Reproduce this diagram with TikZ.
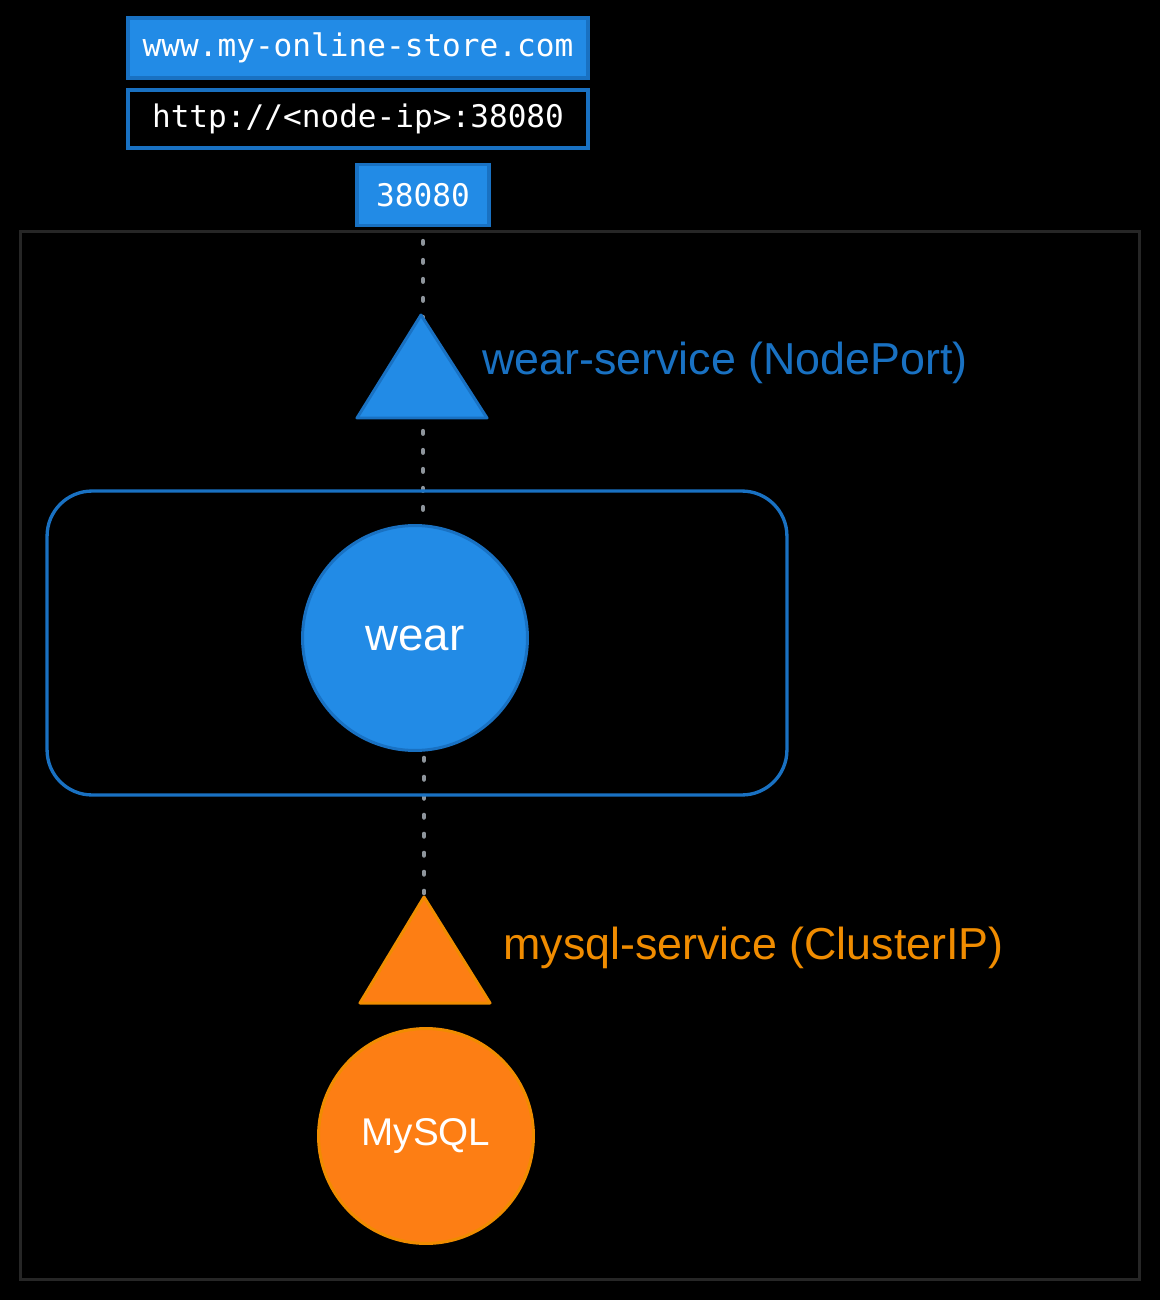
\documentclass[tikz,border=0pt]{standalone}
\usepackage{fontspec}
\setmainfont{Liberation Sans}
\setmonofont{DejaVu Sans Mono}
\usepackage{tikz}
\pgfdeclarelayer{bg}
\pgfsetlayers{bg,main}
\definecolor{svcblue}{HTML}{228BE6}
\definecolor{edgeblue}{HTML}{1971C2}
\definecolor{svcorange}{HTML}{FD7E14}
\definecolor{edgeorange}{HTML}{F08C00}
\definecolor{dotgray}{HTML}{8E959C}
\definecolor{clustergray}{HTML}{262626}

\begin{document}
\begin{tikzpicture}[x=0.02cm, y=-0.02cm,
    urlbox/.style={draw=edgeblue, line width=1.9pt, inner sep=0pt, align=center,
        text=white, font=\fontsize{17.7}{21}\selectfont\ttfamily},
    podball/.style={circle, line width=1.7pt, inner sep=0pt, text=white},
    svclabel/.style={anchor=west, inner sep=0pt, font=\fontsize{25.5}{30}\selectfont},
    link/.style={dotgray, line width=2.6pt, line cap=round, dash pattern=on 0.05cm off 0.33cm}]
        \useasboundingbox (0,0) rectangle (1160,1300);
        \begin{pgfonlayer}{bg}
            \fill[black] (0,0) rectangle (1160,1300);
        \end{pgfonlayer}
        \node[urlbox, fill=svcblue, minimum width=9.2cm, minimum height=1.2cm] (Domain) at (358,48) {www.my-online-store.com};
        \node[urlbox, fill=black, minimum width=9.2cm, minimum height=1.16cm] (Url) at (358,119) {http://<node-ip>:38080};
        \node[urlbox, fill=svcblue, minimum width=2.64cm, minimum height=1.22cm] (Port) at (423,195) {38080};
        \node[draw=clustergray, line width=1.7pt, minimum width=22.4cm, minimum height=20.98cm] (Cluster) at (580,755.5) {};
        \node[draw=edgeblue, line width=1.9pt, rounded corners=0.9cm, minimum width=14.8cm, minimum height=6.08cm] (Pod) at (417,643) {};
        \node[podball, fill=svcblue, draw=edgeblue, minimum size=4.5cm, font=\fontsize{26}{30}\selectfont] (Wear) at (415,638) {wear};
        \node[podball, fill=svcorange, draw=edgeorange, minimum size=4.3cm, font=\fontsize{22}{26}\selectfont] (Mysql) at (426,1136) {MySQL};
        % services
        \coordinate (WearSvcTop) at (421,315);
        \coordinate (MysqlSvcTop) at (424,897);
        \filldraw[fill=svcblue, draw=edgeblue, line width=1.7pt, line join=round]
            (WearSvcTop) -- (357,418) -- (487,418) -- cycle;
        \filldraw[fill=svcorange, draw=edgeorange, line width=1.7pt, line join=round]
            (MysqlSvcTop) -- (360,1003) -- (490,1003) -- cycle;
        \node[svclabel, text=edgeblue] (WearSvc) at (482,363) {wear-service (NodePort)};
        \node[svclabel, text=edgeorange] (MysqlSvc) at (503,948) {mysql-service (ClusterIP)};
        \begin{pgfonlayer}{bg}
            \draw[link, shorten <=0.28cm, shorten >=0.14cm] (Port.south) -- (Port.south |- Wear.north);
            \draw[link, shorten <=0.12cm, shorten >=0.08cm] (Wear.south -| MysqlSvcTop) -- (MysqlSvcTop);
        \end{pgfonlayer}
\end{tikzpicture}
\end{document}
